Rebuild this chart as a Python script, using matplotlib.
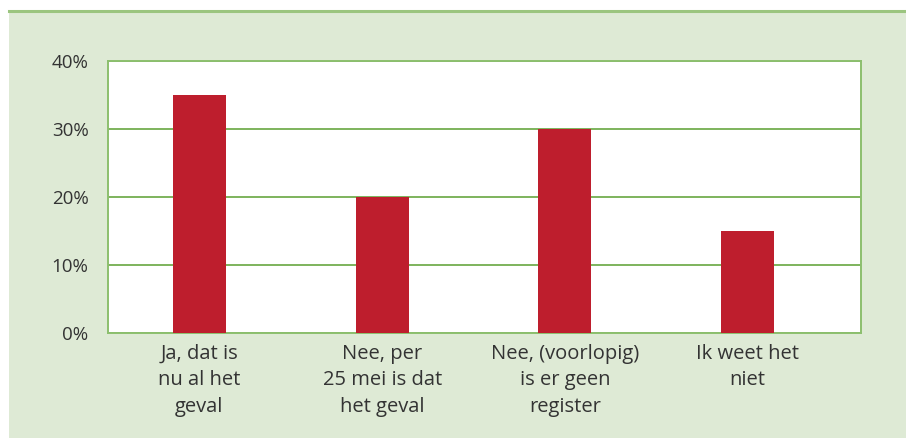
import matplotlib.pyplot as plt
from matplotlib.patches import Rectangle
from matplotlib.lines import Line2D

# answer categories and their shares (%)
categories = ["Ja, dat is\nnu al het\ngeval",
              "Nee, per\n25 mei is dat\nhet geval",
              "Nee, (voorlopig)\nis er geen\nregister",
              "Ik weet het\nniet"]
shares = [35, 20, 30, 15]
yticks = [0, 10, 20, 30, 40]

W, H = 906, 438
fig = plt.figure(figsize=(W / 100, H / 100), dpi=100)
fig.patch.set_facecolor("white")

# light green panel with a line on top
fig.patches.append(Rectangle((9 / W, 0), 1 - 9 / W, (H - 11) / H,
                             transform=fig.transFigure, facecolor="#DEEAD5",
                             edgecolor="none", zorder=-2))
fig.lines.append(Line2D([9 / W, 1], [(H - 11) / H] * 2, transform=fig.transFigure,
                        color="#9BC57F", linewidth=2.2, zorder=-1))

ax = fig.add_axes([108 / W, (H - 333) / H, (861 - 108) / W, (333 - 61) / H])
ax.set_zorder(2)
ax.set_facecolor("white")

x = range(len(categories))
ax.bar(x, shares, width=0.29, color="#BE1E2D", zorder=3)

ax.set_ylim(0, 40)
ax.set_xlim(-0.5, 3.62)
ax.set_yticks(yticks)
ax.set_yticklabels([f"{v}%" for v in yticks])
ax.set_xticks(list(x))
ax.set_xticklabels(categories, linespacing=1.42)

ax.grid(axis="y", color="#7DB35C", linewidth=1.4, zorder=1)
ax.set_axisbelow(True)
for side in ax.spines.values():
    side.set_color("#8CBF6E")
    side.set_linewidth(1.4)

ax.tick_params(axis="both", length=0, labelcolor="#333333")
ax.tick_params(axis="y", pad=14, labelsize=13.5)
ax.tick_params(axis="x", pad=8, labelsize=14.5)
for t in ax.get_xticklabels() + ax.get_yticklabels():
    t.set_fontfamily("Open Sans")

fig.savefig("out.png", dpi=100, facecolor=fig.get_facecolor())
